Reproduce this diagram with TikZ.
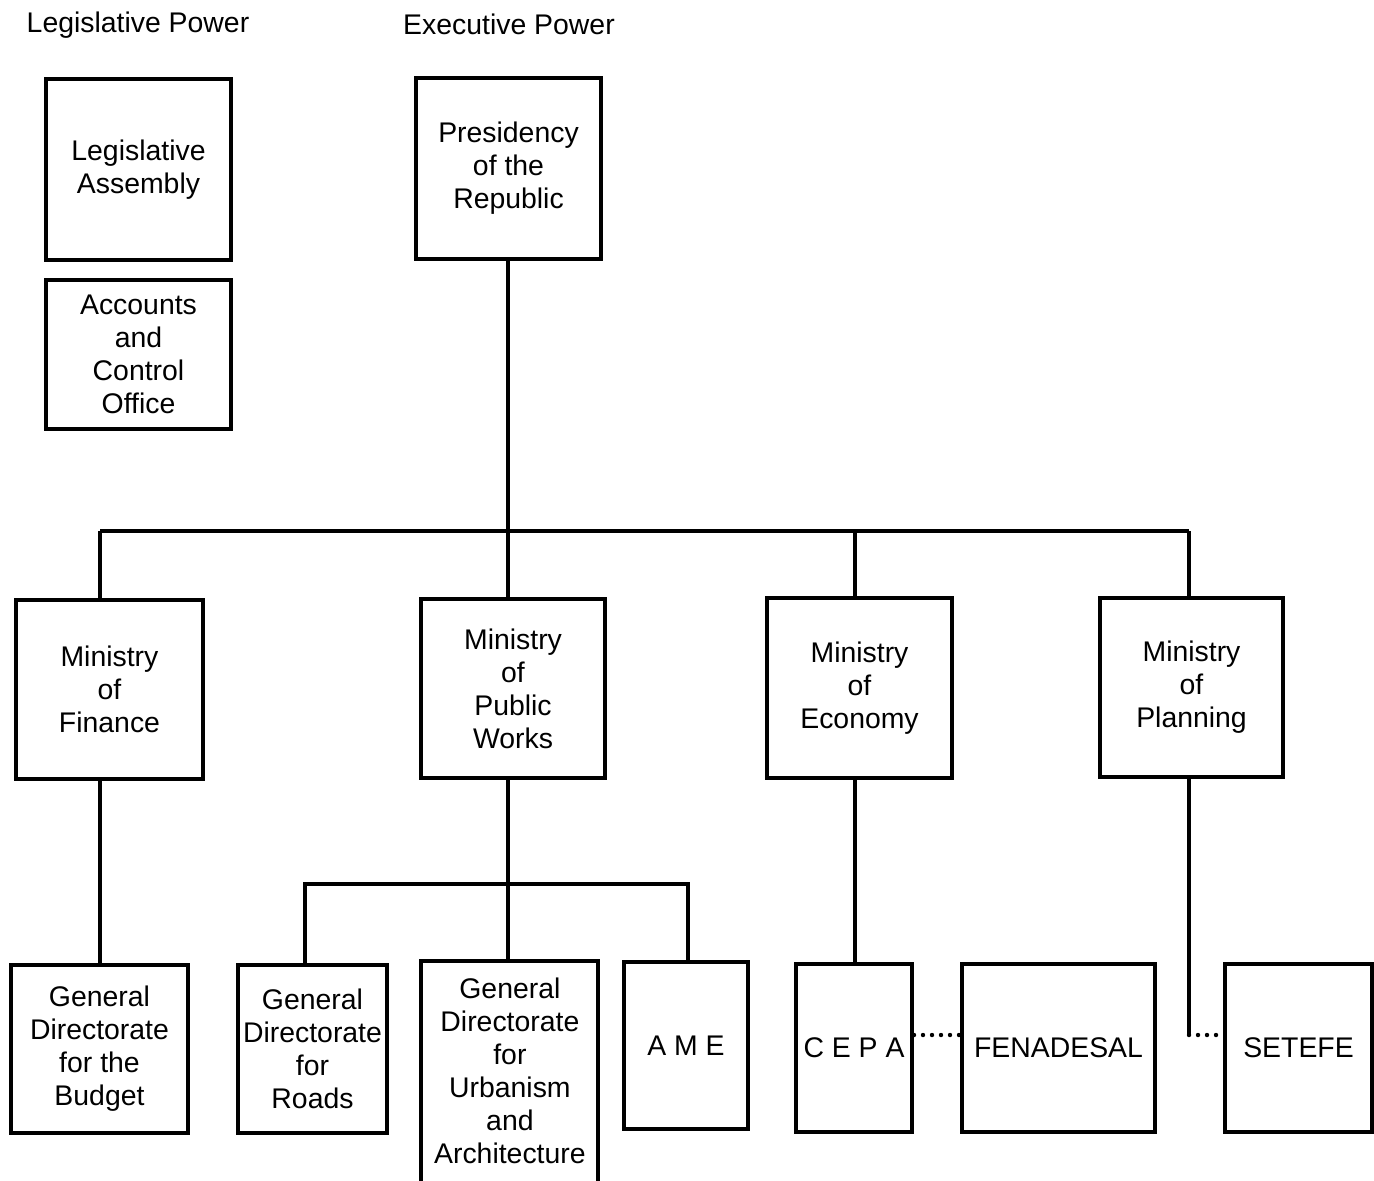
\documentclass[tikz,border=0pt]{standalone}
\usepackage{fontspec}
\setmainfont{Liberation Sans}
\begin{document}
\begin{tikzpicture}[x=0.5pt,y=-0.5pt,
  box/.style={draw,line width=2pt,align=center,inner sep=0pt,
    font=\fontsize{14.2}{16.5}\selectfont},
  conn/.style={line width=2pt},
  dots/.style={line width=2.2pt,dash pattern=on 0pt off 4.5pt,line cap=round},
  hdr/.style={font=\fontsize{14.2}{16.5}\selectfont}]
\useasboundingbox (0,0) rectangle (1374,1180);
\newcommand{\bx}[6]{\node[box,minimum width=#4*0.5pt-2pt,minimum height=#5*0.5pt-2pt,anchor=north west] (#1) at (#2+2,#3+2) {#6};}
% headers
\node[hdr] (hl) at (138,25) {Legislative Power};
\node[hdr] (he) at (509,24) {Executive Power};
% boxes
\bx{la}{42}{75}{189}{185}{Legislative\\Assembly}
\bx{ac}{42}{276}{189}{153}{Accounts\\and\\Control\\Office}
\bx{pr}{412}{74}{189}{185}{Presidency\\of the\\Republic}
\bx{mf}{12}{596}{191}{183}{Ministry\\of\\Finance}
\bx{mp}{417}{595}{188}{183}{Ministry\\of\\Public\\Works}
\bx{me}{763}{594}{189}{184}{Ministry\\of\\Economy}
\bx{mpl}{1096}{594}{187}{183}{Ministry\\of\\Planning}
\bx{gb}{7}{961}{181}{172}{General\\Directorate\\for the\\Budget}
\bx{gr}{234}{961}{153}{172}{General\\Directorate\\for\\Roads}
\bx{ame}{620}{958}{128}{171}{A M E}
\bx{cepa}{792}{960}{120}{172}{C E P A}
\bx{fen}{958}{960}{197}{172}{FENADESAL}
\bx{set}{1221}{960}{151}{172}{SETEFE}
% urbanism box (cut off at the bottom)
\node[align=center,inner sep=0pt,font=\fontsize{14.2}{16.5}\selectfont,
  minimum width=89.5pt,minimum height=110pt,anchor=north west] (gu) at (420,960) {General\\Directorate\\for\\Urbanism\\and\\Architecture};
\draw[line width=2pt] (421,1190) -- (421,961) -- (598,961) -- (598,1190);
% connectors
\coordinate (h1) at (508,531);
\coordinate (hf) at (100,531);
\coordinate (he2) at (855,531);
\coordinate (hp) at (1189,531);
\draw[conn] (h1 |- pr.south) -- (h1);
\draw[conn] (hf) -- (hp);
\draw[conn] (hf) -- (hf |- mf.north);
\draw[conn] (h1) -- (h1 |- mp.north);
\draw[conn] (he2) -- (he2 |- me.north);
\draw[conn] (hp) -- (hp |- mpl.north);
\draw[conn] (hf |- mf.south) -- (hf |- gb.north);
\coordinate (pw) at (508,884);
\draw[conn] (pw |- mp.south) -- (pw);
\draw[conn] (305,884 |- gr.north) -- (305,884) -- (688,884) -- (688,884 |- ame.north);
\draw[conn] (pw) -- (508,961);
\draw[conn] (he2 |- me.south) -- (he2 |- cepa.north);
\coordinate (pl) at (1189,1035);
\draw[conn] (hp |- mpl.south) -- (pl);
\draw[dots] (pl) -- (set.west |- pl);
\draw[dots] (cepa.east |- 0,1035) -- (fen.west |- 0,1035);
\end{tikzpicture}
\end{document}
